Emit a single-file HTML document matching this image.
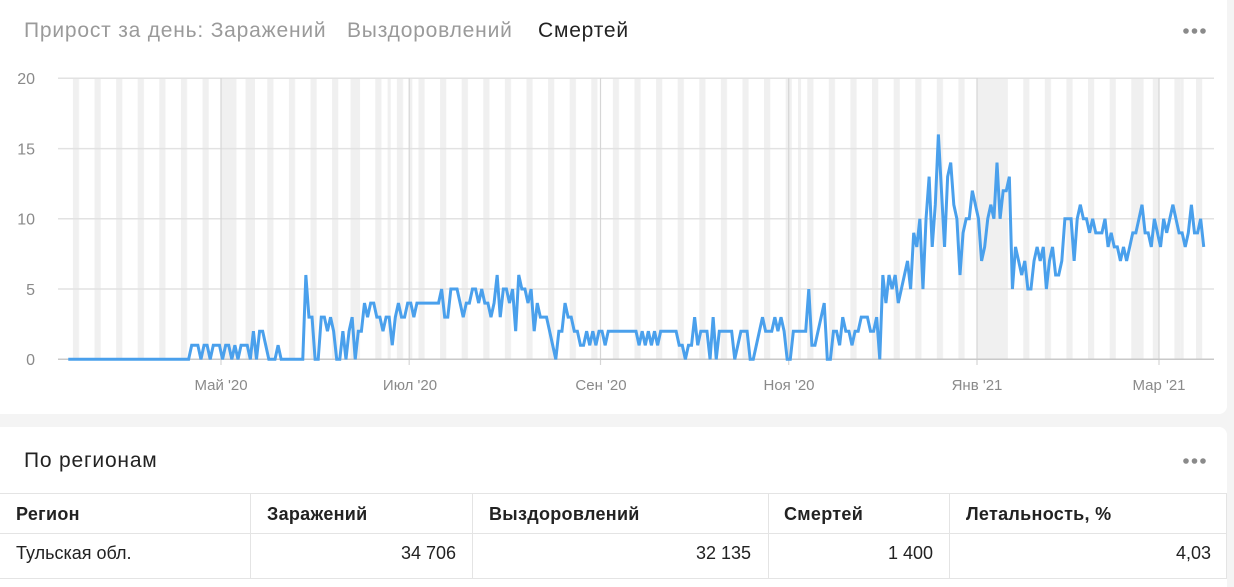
<!DOCTYPE html>
<html><head><meta charset="utf-8">
<style>
html,body{margin:0;padding:0;}
body{width:1234px;height:583px;overflow:hidden;background:#f4f4f4;position:relative;font-family:"Liberation Sans","Noto Sans CJK SC",sans-serif;}
.card{position:absolute;left:0;background:#fff;}
.t{position:absolute;white-space:nowrap;line-height:20px;}
.h{font-size:21px;letter-spacing:0.8px;}
.th{position:absolute;white-space:nowrap;font-size:18px;font-weight:bold;color:#222;line-height:20px;top:504px;letter-spacing:0.3px;}
.td{position:absolute;white-space:nowrap;font-size:18px;color:#222;line-height:20px;top:543px;}
.r{text-align:right;}
</style></head><body>
<div class="card" style="top:0;width:1227px;height:414px;border-bottom-right-radius:8px;">
<svg width="1227" height="414" style="position:absolute;left:0;top:0">
<defs>
<pattern id="wk" x="72.896" y="0" width="21.5985" height="414" patternUnits="userSpaceOnUse">
<rect x="0" y="0" width="6.171" height="414" fill="#f0f0f0"/>
</pattern>
</defs>
<rect x="58" y="78" width="1156" height="281" fill="url(#wk)"/>
<g transform="translate(66.725,0) scale(3.0855,1)" fill="#f0f0f0">
<rect x="50" y="78" width="5" height="281"/>
<rect x="58" y="78" width="3" height="281"/>
<rect x="92" y="78" width="3" height="281"/>
<rect x="104" y="78" width="1" height="281"/>
<rect x="111" y="78" width="1" height="281"/>
<rect x="237" y="78" width="1" height="281"/>
<rect x="295" y="78" width="10" height="281"/>
<rect x="346" y="78" width="3" height="281"/>
<rect x="361" y="78" width="1" height="281"/>
</g>
<g stroke="#e2e2e2" stroke-width="1.5">
<line x1="58" x2="1214" y1="78.3" y2="78.3"/>
<line x1="58" x2="1214" y1="148.6" y2="148.6"/>
<line x1="58" x2="1214" y1="218.8" y2="218.8"/>
<line x1="58" x2="1214" y1="289" y2="289"/>
</g>
<g stroke="#d6d6d6" stroke-width="1.2">
<line x1="221" x2="221" y1="78" y2="365"/>
<line x1="409.2" x2="409.2" y1="78" y2="365"/>
<line x1="600.5" x2="600.5" y1="78" y2="365"/>
<line x1="788.7" x2="788.7" y1="78" y2="365"/>
<line x1="977" x2="977" y1="78" y2="365"/>
<line x1="1159" x2="1159" y1="78" y2="365"/>
</g>
<line x1="58" x2="1214" y1="359.3" y2="359.3" stroke="#c9c9c9" stroke-width="1.5"/>
<g font-family="Liberation Sans, sans-serif" font-size="16" fill="#8a8a8a" text-anchor="end">
<text x="35" y="84">20</text>
<text x="35" y="154.5">15</text>
<text x="35" y="224.5">10</text>
<text x="35" y="295">5</text>
<text x="35" y="365">0</text>
</g>
<g font-family="Liberation Sans, sans-serif" font-size="15" fill="#8a8a8a" text-anchor="middle">
<text x="221" y="390">Май '20</text>
<text x="410" y="390">Июл '20</text>
<text x="601" y="390">Сен '20</text>
<text x="789" y="390">Ноя '20</text>
<text x="977" y="390">Янв '21</text>
<text x="1159" y="390">Мар '21</text>
</g>
<g transform="translate(68.27,359.3) scale(3.0855,-14.05)">
<polyline fill="none" stroke="#4aa0ec" stroke-width="3" vector-effect="non-scaling-stroke" stroke-linejoin="miter" points="0,0 39,0 40,1 41,1 42,1 43,0 44,1 45,1 46,0 47,1 48,1 49,1 50,0 51,1 52,1 53,0 54,1 55,0 56,1 57,1 58,1 59,0 60,2 61,0 62,2 63,2 64,1 65,0 67,0 68,1 69,0 76,0 77,6 78,3 79,3 80,0 81,0 82,3 83,3 84,2 85,3 86,2 87,0 88,0 89,2 90,0 91,2 92,3 93,0 94,2 95,2 96,4 97,3 98,4 99,4 100,3 101,3 102,2 103,3 104,3 105,1 106,3 107,4 108,3 109,3 110,4 111,4 112,3 113,4 120,4 121,5 122,3 123,3 124,5 126,5 127,4 128,3 129,4 130,4 131,5 132,5 133,4 134,5 135,4 136,4 137,3 138,4 139,6 140,3 141,5 142,5 143,4 144,5 145,2 146,6 147,5 148,5 149,4 150,5 151,2 152,4 153,3 155,3 156,2 157,1 158,0 159,2 160,2 161,4 162,3 163,3 164,2 165,2 166,1 167,1 168,2 169,1 170,2 171,1 172,2 173,2 174,1 175,2 184,2 185,1 186,2 187,1 188,2 189,1 190,2 191,1 192,2 197,2 198,1 199,1 200,0 201,1 202,1 203,3 204,1 205,2 207,2 208,0 209,3 210,0 211,2 215,2 216,0 217,1 218,2 220,2 221,0 222,0 223,1 224,2 225,3 226,2 228,2 229,3 230,2 231,3 232,2 233,0 234,0 235,2 239,2 240,5 241,1 242,1 243,2 244,3 245,4 246,0 247,0 248,2 249,2 250,1 251,3 252,2 253,2 254,1 255,2 256,2 257,3 259,3 260,2 261,2 262,3 263,0 264,6 265,4 266,6 267,5 268,6 269,4 270,5 271,6 272,7 273,5 274,9 275,8 276,10 277,5 278,10 279,13 280,8 281,11 282,16 284,8 285,13 286,14 287,11 288,10 289,6 290,9 291,10 292,10 293,12 294,11 295,10 296,7 297,8 298,10 299,11 300,10 301,14 302,10 303,12 304,12 305,13 306,5 307,8 308,7 309,6 310,7 311,5 312,5 313,7 314,8 315,7 316,8 317,5 318,7 319,8 320,6 321,6 322,7 323,10 325,10 326,7 327,10 328,11 329,10 330,10 331,9 332,10 333,9 335,9 336,10 337,8 338,9 339,8 340,8 341,7 342,8 343,7 344,8 345,9 346,9 347,10 348,11 349,9 350,9 351,8 352,10 353,9 354,8 355,10 356,9 357,10 358,11 359,10 360,9 361,9 362,8 363,9 364,11 365,9 366,9 367,10 368,8"/>
</g>
<g fill="#8a8a8a">
<circle cx="1186" cy="31" r="2.8"/>
<circle cx="1194.5" cy="31" r="2.8"/>
<circle cx="1203" cy="31" r="2.8"/>
</g>
</svg>
<div class="t h" style="left:24px;top:21px;color:#9a9a9a;">Прирост за день: Заражений</div>
<div class="t h" style="left:347px;top:21px;color:#9a9a9a;">Выздоровлений</div>
<div class="t h" style="left:538px;top:21px;color:#222;">Смертей</div>
</div>

<div class="card" style="top:427px;width:1227px;height:160px;border-top-right-radius:8px;">
<svg width="1227" height="160" style="position:absolute;left:0;top:0">
<g fill="#8a8a8a">
<circle cx="1186" cy="34" r="2.8"/>
<circle cx="1194.5" cy="34" r="2.8"/>
<circle cx="1203" cy="34" r="2.8"/>
</g>
<g stroke="#e4e4e4" stroke-width="1">
<line x1="0" x2="1227" y1="66.5" y2="66.5"/>
<line x1="0" x2="1227" y1="106.5" y2="106.5"/>
<line x1="0" x2="1227" y1="151.5" y2="151.5"/>
<line x1="250.5" x2="250.5" y1="66" y2="152"/>
<line x1="472.5" x2="472.5" y1="66" y2="152"/>
<line x1="768.5" x2="768.5" y1="66" y2="152"/>
<line x1="949.5" x2="949.5" y1="66" y2="152"/>
<line x1="1226.5" x2="1226.5" y1="66" y2="152"/>
</g>
</svg>
</div>
<div class="t h" style="left:24px;top:451px;color:#222;">По регионам</div>

<div class="th" style="left:16px;">Регион</div>
<div class="th" style="left:267px;">Заражений</div>
<div class="th" style="left:489px;">Выздоровлений</div>
<div class="th" style="left:784px;">Смертей</div>
<div class="th" style="left:966px;">Летальность, %</div>

<div class="td" style="left:16px;">Тульская обл.</div>
<div class="td r" style="left:250px;width:206px;">34&nbsp;706</div>
<div class="td r" style="left:472px;width:279px;">32&nbsp;135</div>
<div class="td r" style="left:768px;width:165px;">1&nbsp;400</div>
<div class="td r" style="left:949px;width:262px;">4,03</div>
</body></html>
